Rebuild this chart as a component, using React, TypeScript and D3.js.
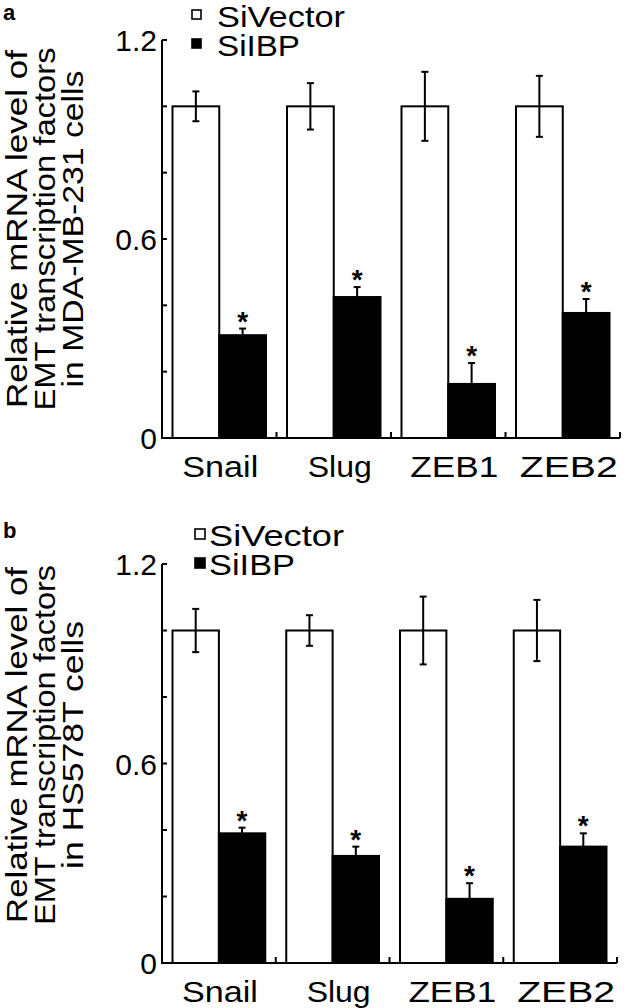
import React from "react";
import * as d3 from "d3";

const categories = ["Snail", "Slug", "ZEB1", "ZEB2"];
const seriesNames = ["SiVector", "SiIBP"];

// Panel a: MDA-MB-231
const vectorA = [1.0, 1.0, 1.0, 1.0];
const vectorErrA = [0.045, 0.07, 0.104, 0.092];
const ibpA = [0.31, 0.425, 0.163, 0.377];
const ibpErrA = [0.02, 0.03, 0.063, 0.042];

// Panel b: HS578T
const vectorB = [1.0, 1.0, 1.0, 1.0];
const vectorErrB = [0.065, 0.046, 0.102, 0.092];
const ibpB = [0.39, 0.322, 0.193, 0.35];
const ibpErrB = [0.017, 0.028, 0.047, 0.04];

const yTicks = [0, 0.2, 0.4, 0.6, 0.8, 1.0, 1.2];
const yTickLabels = [
  { v: 0, t: "0" },
  { v: 0.6, t: "0.6" },
  { v: 1.2, t: "1.2" },
];

const FONT = "'Liberation Sans', Arial, Helvetica, sans-serif";

type PanelProps = {
  letter: string;
  letterY: number;
  vec: number[];
  vecErr: number[];
  ibp: number[];
  ibpErr: number[];
  x0: number;
  x1: number;
  yTop: number;
  yBottom: number;
  titleLines: string[];
  titleLens: number[];
  titleCenter: number;
  legend: { sqX: number; sqSize: number; textX: number; y1: number; lens: number[] };
  catLens: number[];
};

function Panel(p: PanelProps) {
  const x = d3.scaleBand<string>().domain(categories).range([p.x0, p.x1]).padding(0);
  const inner = d3
    .scaleBand<string>()
    .domain(seriesNames)
    .range([10.5, x.bandwidth() - 10.5])
    .padding(0);
  const y = d3.scaleLinear().domain([0, 1.2]).range([p.yBottom, p.yTop]);
  const cap = 3.5;
  const sw = 2;

  return (
    <g>
      {/* panel letter */}
      <text x={3} y={p.letterY} fontFamily={FONT} fontWeight="bold" fontSize={22}>
        {p.letter}
      </text>

      {/* y title */}
      {p.titleLines.map((line, i) => (
        <text
          key={i}
          transform={`translate(${27 + i * 28},${p.titleCenter}) rotate(-90)`}
          textAnchor="middle"
          fontFamily={FONT}
          fontSize={29}
          textLength={p.titleLens[i]}
          lengthAdjust="spacingAndGlyphs"
        >
          {line}
        </text>
      ))}

      {/* legend */}
      <rect
        x={p.legend.sqX}
        y={p.legend.y1 - 17}
        width={p.legend.sqSize}
        height={p.legend.sqSize}
        fill="#fff"
        stroke="#000"
        strokeWidth={1.6}
      />
      <text
        x={p.legend.textX}
        y={p.legend.y1}
        fontFamily={FONT}
        fontSize={29}
        textLength={p.legend.lens[0]}
        lengthAdjust="spacingAndGlyphs"
      >
        {seriesNames[0]}
      </text>
      <rect
        x={p.legend.sqX}
        y={p.legend.y1 + 29 - 17}
        width={p.legend.sqSize}
        height={p.legend.sqSize}
        fill="#000"
        stroke="#000"
        strokeWidth={1.6}
      />
      <text
        x={p.legend.textX}
        y={p.legend.y1 + 29}
        fontFamily={FONT}
        fontSize={29}
        textLength={p.legend.lens[1]}
        lengthAdjust="spacingAndGlyphs"
      >
        {seriesNames[1]}
      </text>

      {/* bars */}
      {categories.map((c, i) => {
        const bx = x(c)!;
        const wx = bx + inner("SiVector")!;
        const kx = bx + inner("SiIBP")!;
        const bw = inner.bandwidth();
        const wc = wx + bw / 2;
        const kc = kx + bw / 2;
        const errHi = y(p.ibp[i] + p.ibpErr[i]);
        return (
          <g key={c}>
            <rect
              x={wx}
              y={y(p.vec[i])}
              width={bw}
              height={y(0) - y(p.vec[i])}
              fill="#fff"
              stroke="#000"
              strokeWidth={sw}
            />
            <rect
              x={kx}
              y={y(p.ibp[i])}
              width={bw}
              height={y(0) - y(p.ibp[i])}
              fill="#000"
              stroke="#000"
              strokeWidth={sw}
            />
            {/* vector error bar */}
            <line x1={wc} x2={wc} y1={y(p.vec[i] - p.vecErr[i])} y2={y(p.vec[i] + p.vecErr[i])} stroke="#000" strokeWidth={sw} />
            <line x1={wc - cap} x2={wc + cap} y1={y(p.vec[i] + p.vecErr[i])} y2={y(p.vec[i] + p.vecErr[i])} stroke="#000" strokeWidth={sw} />
            <line x1={wc - cap} x2={wc + cap} y1={y(p.vec[i] - p.vecErr[i])} y2={y(p.vec[i] - p.vecErr[i])} stroke="#000" strokeWidth={sw} />
            {/* ibp error bar (upper only) */}
            <line x1={kc} x2={kc} y1={y(p.ibp[i])} y2={errHi} stroke="#000" strokeWidth={sw} />
            <line x1={kc - cap} x2={kc + cap} y1={errHi} y2={errHi} stroke="#000" strokeWidth={sw} />
            {/* asterisk */}
            <text x={kc} y={errHi + 2} textAnchor="middle" fontFamily={FONT} fontWeight="bold" fontSize={28}>
              *
            </text>
          </g>
        );
      })}

      {/* y axis */}
      <line x1={p.x0} x2={p.x0} y1={y(1.2)} y2={y(0)} stroke="#000" strokeWidth={2} />
      {yTicks.map((t) => (
        <line key={t} x1={p.x0} x2={p.x0 + 5} y1={y(t)} y2={y(t)} stroke="#000" strokeWidth={2} />
      ))}
      {yTickLabels.map((t) => (
        <text
          key={t.t}
          x={p.x0 - 5}
          y={y(t.v) + 11}
          textAnchor="end"
          fontFamily={FONT}
          fontSize={30}
        >
          {t.t}
        </text>
      ))}

      {/* x axis */}
      <line x1={p.x0 - 1} x2={p.x1} y1={y(0)} y2={y(0)} stroke="#000" strokeWidth={2.2} />
      {categories.map((c) => (
        <line
          key={c}
          x1={x(c)! + x.bandwidth()}
          x2={x(c)! + x.bandwidth()}
          y1={y(0)}
          y2={y(0) - 6}
          stroke="#000"
          strokeWidth={2}
        />
      ))}
      {categories.map((c, i) => (
        <text
          key={c}
          x={x(c)! + x.bandwidth() / 2 + (i === 0 ? 1 : 6)}
          y={y(0) + 39}
          textAnchor="middle"
          fontFamily={FONT}
          fontSize={30}
          textLength={p.catLens[i]}
          lengthAdjust="spacingAndGlyphs"
        >
          {c}
        </text>
      ))}
    </g>
  );
}

export default function App() {
  return (
    <svg
      width={641}
      height={1008}
      viewBox="0 0 641 1008"
      style={{ position: "absolute", left: 0, top: 0, background: "#fff" }}
    >
      <rect width={641} height={1008} fill="#fff" />
      <Panel
        letter="a"
        letterY={20}
        vec={vectorA}
        vecErr={vectorErrA}
        ibp={ibpA}
        ibpErr={ibpErrA}
        x0={162}
        x1={620}
        yTop={40}
        yBottom={438}
        titleLines={["Relative mRNA level of", "EMT transcription factors", "in MDA-MB-231 cells"]}
        titleLens={[358, 363, 317]}
        titleCenter={229}
        legend={{ sqX: 192, sqSize: 9, textX: 217, y1: 27, lens: [128, 83] }}
        catLens={[76, 64, 88, 98]}
      />
      <Panel
        letter="b"
        letterY={538}
        vec={vectorB}
        vecErr={vectorErrB}
        ibp={ibpB}
        ibpErr={ibpErrB}
        x0={162}
        x1={617}
        yTop={564}
        yBottom={963}
        titleLines={["Relative mRNA level of", "EMT transcription factors", "in HS578T cells"]}
        titleLens={[356, 360, 248]}
        titleCenter={745}
        legend={{ sqX: 195, sqSize: 10, textX: 209, y1: 546, lens: [135, 86] }}
        catLens={[76, 64, 88, 98]}
      />
    </svg>
  );
}
